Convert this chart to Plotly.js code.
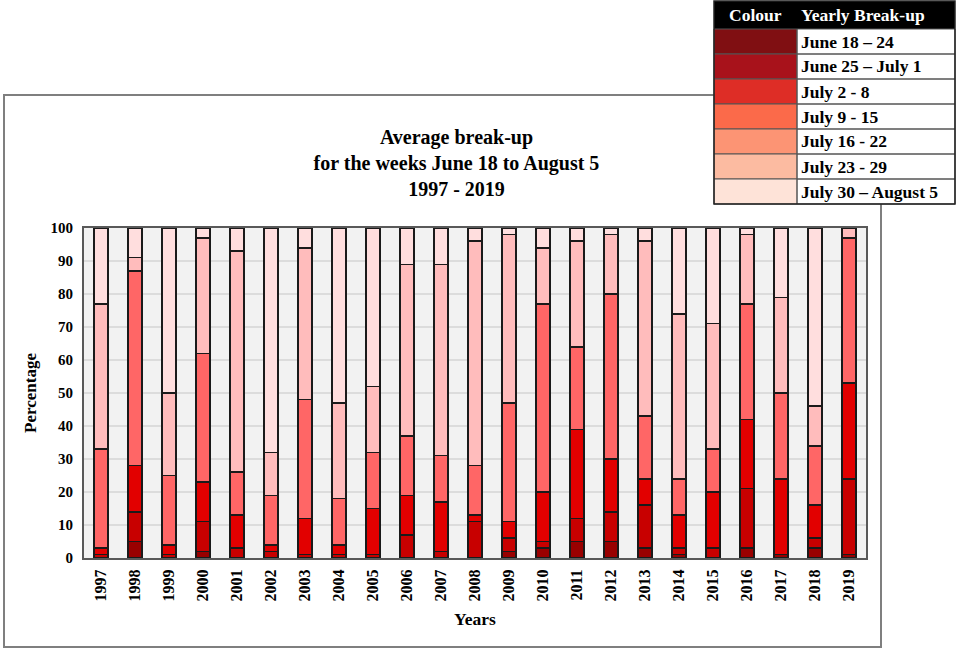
<!DOCTYPE html>
<html>
<head>
<meta charset="utf-8">
<script src="https://cdn.plot.ly/plotly-3.0.1.min.js"></script>
<style>
  html, body { margin: 0; padding: 0; background: #fff; }
  #chart { width: 957px; height: 651px; }
</style>
</head>
<body>
<div id="chart"></div>
<script>
var years = ['1997','1998','1999','2000','2001','2002','2003','2004','2005','2006','2007','2008',
             '2009','2010','2011','2012','2013','2014','2015','2016','2017','2018','2019'];

// percentage of break-up in each week, bottom segment first
var june18_24   = [0, 5, 0, 2, 0, 0, 0, 0, 0, 0, 0, 0, 2, 3, 5, 5, 3, 1, 0, 3, 1, 3, 1];
var june25_jul1 = [1, 9, 1, 9, 3, 2, 1, 1, 1, 7, 2, 11, 4, 2, 7, 9, 13, 2, 3, 18, 0, 3, 23];
var july2_8     = [2, 14, 3, 12, 10, 2, 11, 3, 14, 12, 15, 2, 5, 15, 27, 16, 8, 10, 17, 21, 23, 10, 29];
var july9_15    = [30, 59, 21, 39, 13, 15, 36, 14, 17, 18, 14, 15, 36, 57, 25, 50, 19, 11, 13, 35, 26, 18, 44];
var july16_22   = [44, 4, 25, 35, 67, 13, 46, 29, 20, 52, 58, 68, 51, 17, 32, 18, 53, 50, 38, 21, 29, 12, 3];
var july23_29   = [23, 9, 50, 3, 7, 68, 6, 53, 48, 11, 11, 4, 2, 6, 4, 2, 4, 26, 29, 2, 21, 54, 0];

var seriesNames = ['June 18 \u2013 24', 'June 25 \u2013 July 1', 'July 2 - 8', 'July 9 - 15',
                   'July 16 - 22', 'July 23 - 29'];
var seriesVals = [june18_24, june25_jul1, july2_8, july9_15, july16_22, july23_29];
var barColors = ['#990000', '#c80000', '#e20000', '#ff6666', '#ffbcbc', '#ffdede'];

// colour table in the corner
var keyLabels = ['June 18 \u2013 24', 'June 25 \u2013 July 1', 'July 2 - 8', 'July 9 - 15',
                 'July 16 - 22', 'July 23 - 29', 'July 30 \u2013 August 5'];
var keyColors = ['#800f12', '#a8121b', '#de2d26', '#fb6a4a', '#fc9474', '#fcbba1', '#fee3d8'];

var serif = 'Liberation Serif, Times New Roman, serif';

// plot area sits at x 84..866, y 228..558 px
var L = 84, R = 866, T = 228, B = 558;
function px(x) { return (x - L) / (R - L); }
function py(y) { return (B - y) / (B - T); }

var data = [];
for (var i = 0; i < seriesVals.length; i++) {
  data.push({
    x: years,
    y: seriesVals[i],
    type: 'bar',
    name: seriesNames[i],
    marker: {color: barColors[i], line: {color: '#1a1a1a', width: 1.5}},
    showlegend: false
  });
}

var shapes = [];
var annotations = [];

// outer frame
shapes.push({type: 'rect', xref: 'paper', yref: 'paper', layer: 'below',
  x0: px(4), x1: px(881), y0: py(647), y1: py(95),
  line: {color: '#7f7f7f', width: 2}, fillcolor: 'rgba(0,0,0,0)'});

// table
var rowEdges = [1, 29, 54, 79, 104, 129, 154, 179, 204];
var tx0 = 714, tx1 = 955, tmid = 797;
shapes.push({type: 'rect', xref: 'paper', yref: 'paper',
  x0: px(tx0), x1: px(tx1), y0: py(204), y1: py(1),
  line: {width: 0}, fillcolor: '#ffffff'});
shapes.push({type: 'rect', xref: 'paper', yref: 'paper',
  x0: px(tx0), x1: px(tx1), y0: py(rowEdges[1]), y1: py(rowEdges[0]),
  line: {width: 0}, fillcolor: '#000000'});
for (var k = 0; k < keyLabels.length; k++) {
  var yTop = rowEdges[k + 1], yBot = rowEdges[k + 2];
  shapes.push({type: 'rect', xref: 'paper', yref: 'paper',
    x0: px(tx0), x1: px(tmid), y0: py(yBot), y1: py(yTop),
    line: {color: '#555', width: 1}, fillcolor: keyColors[k]});
  shapes.push({type: 'rect', xref: 'paper', yref: 'paper',
    x0: px(tmid), x1: px(tx1), y0: py(yBot), y1: py(yTop),
    line: {color: '#555', width: 1}, fillcolor: 'rgba(0,0,0,0)'});
  annotations.push({xref: 'paper', yref: 'paper', x: px(tmid + 2), y: py((yTop + yBot) / 2),
    xanchor: 'left', yanchor: 'middle', showarrow: false, text: '<b>' + keyLabels[k] + '</b>',
    font: {family: serif, size: 17.5, color: '#000'}});
}
shapes.push({type: 'rect', xref: 'paper', yref: 'paper',
  x0: px(tx0), x1: px(tx1), y0: py(204), y1: py(1),
  line: {color: '#222', width: 1.5}, fillcolor: 'rgba(0,0,0,0)'});
annotations.push({xref: 'paper', yref: 'paper', x: px((tx0 + tmid) / 2), y: py(15),
  xanchor: 'center', yanchor: 'middle', showarrow: false, text: '<b>Colour</b>',
  font: {family: serif, size: 17.5, color: '#fff'}});
annotations.push({xref: 'paper', yref: 'paper', x: px(tmid + 2), y: py(15),
  xanchor: 'left', yanchor: 'middle', showarrow: false, text: '<b>Yearly Break-up</b>',
  font: {family: serif, size: 17.5, color: '#fff'}});

var layout = {
  width: 957,
  height: 651,
  margin: {l: L, r: 957 - R, t: T, b: 651 - B},
  paper_bgcolor: '#ffffff',
  plot_bgcolor: '#f2f2f2',
  barmode: 'stack',
  bargap: 0.6,
  title: {
    text: '<b>Average break-up<br>for the weeks June 18 to August 5<br>1997 - 2019</b>',
    xref: 'container', yref: 'container', x: 0.477, y: 1 - 144 / 651,
    xanchor: 'center', yanchor: 'middle',
    font: {family: serif, size: 20, color: '#000'}
  },
  xaxis: {
    tickangle: -90,
    tickfont: {family: serif, size: 16, color: '#000'},
    ticklabelstandoff: 3,
    showline: true, linecolor: '#595959', linewidth: 2, mirror: true,
    title: {text: '<b>Years</b>', standoff: 12, font: {family: serif, size: 17.5, color: '#000'}}
  },
  yaxis: {
    range: [0, 100],
    dtick: 10,
    tickfont: {family: serif, size: 15, color: '#000'},
    ticklabelstandoff: 6,
    tickprefix: '<b>', ticksuffix: '</b>',
    showgrid: true, gridcolor: '#dcdcdc', gridwidth: 1.5,
    showline: true, linecolor: '#595959', linewidth: 2, mirror: true,
    zeroline: false,
    title: {text: '<b>Percentage</b>', standoff: 10, font: {family: serif, size: 17, color: '#000'}}
  },
  shapes: shapes,
  annotations: annotations
};

// bold x tick labels
layout.xaxis.tickvals = years;
layout.xaxis.ticktext = years.map(function (y) { return '<b>' + y + '</b>'; });

Plotly.newPlot('chart', data, layout, {displayModeBar: false});
</script>
</body>
</html>
